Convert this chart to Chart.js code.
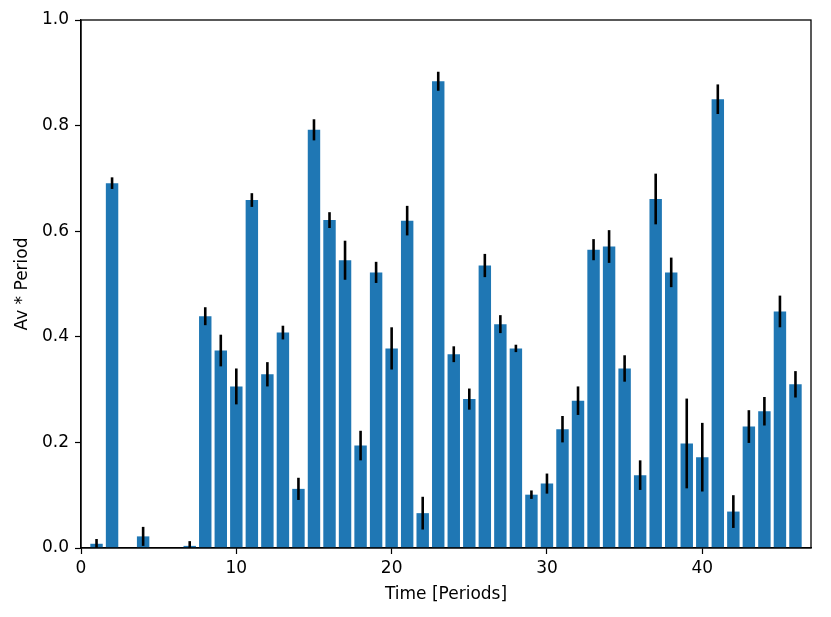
<!DOCTYPE html>
<html>
<head>
<meta charset="utf-8">
<script src="https://cdn.jsdelivr.net/npm/chart.js@4/dist/chart.umd.min.js"></script>
<style>
html,body{margin:0;padding:0;background:#fff;}
#wrap{width:831px;height:617px;position:relative;}
</style>
</head>
<body>
<div id="wrap"><canvas id="c" width="831" height="617"></canvas></div>
<script>
const periods = [1,2,3,4,5,6,7,8,9,10,11,12,13,14,15,16,17,18,19,20,21,22,23,24,25,26,27,28,29,30,31,32,33,34,35,36,37,38,39,40,41,42,43,44,45,46];
const values = [0.008,0.691,0,0.022,0,0,0.004,0.439,0.374,0.306,0.659,0.329,0.408,0.112,0.792,0.621,0.545,0.194,0.522,0.378,0.620,0.066,0.884,0.367,0.282,0.535,0.424,0.378,0.101,0.122,0.225,0.279,0.565,0.571,0.340,0.138,0.661,0.522,0.198,0.172,0.850,0.069,0.230,0.259,0.448,0.310];
const errors = [0.009,0.011,0,0.018,0,0,0.009,0.017,0.030,0.034,0.013,0.023,0.013,0.021,0.020,0.015,0.037,0.028,0.020,0.040,0.028,0.031,0.018,0.015,0.020,0.022,0.017,0.007,0.008,0.019,0.025,0.027,0.020,0.031,0.025,0.028,0.048,0.028,0.085,0.065,0.028,0.031,0.031,0.027,0.030,0.025];
const xTicks = [0,10,20,30,40];
const yTicks = [0.0,0.2,0.4,0.6,0.8,1.0];

const FONT = "'DejaVu Sans', sans-serif";

const errorBars = {
  id: 'errorBars',
  afterDatasetsDraw(chart) {
    const ctx = chart.ctx;
    const meta = chart.getDatasetMeta(0);
    const ys = chart.scales.y;
    ctx.save();
    ctx.strokeStyle = '#000';
    ctx.lineWidth = 2.6;
    meta.data.forEach((bar, i) => {
      const e = errors[i];
      if (!e) return;
      const v = values[i];
      const top = ys.getPixelForValue(v + e);
      const bot = ys.getPixelForValue(v - e);
      ctx.beginPath();
      ctx.moveTo(bar.x, top);
      ctx.lineTo(bar.x, Math.min(bot, chart.chartArea.bottom));
      ctx.stroke();
    });
    ctx.restore();
  },
  afterDraw(chart) {
    const a = chart.chartArea;
    const ctx = chart.ctx;
    ctx.save();
    ctx.strokeStyle = '#000';
    ctx.lineWidth = 1.3;
    ctx.strokeRect(a.left, a.top, a.right - a.left, a.bottom - a.top);
    ctx.restore();
  }
};

new Chart(document.getElementById('c'), {
  type: 'bar',
  data: {
    datasets: [{
      data: periods.map((p, i) => ({x: p, y: values[i]})),
      backgroundColor: '#1f77b4',
      borderWidth: 0,
      barPercentage: 1.0,
      categoryPercentage: 0.8
    }]
  },
  options: {
    responsive: false,
    animation: false,
    devicePixelRatio: 1,
    layout: {padding: {left: 0, right: 20, top: 20, bottom: 0}},
    plugins: {legend: {display: false}, tooltip: {enabled: false}},
    scales: {
      x: {
        type: 'linear',
        min: 0, max: 47,
        offset: false,
        afterBuildTicks: s => { s.ticks = xTicks.map(v => ({value: v})); },
        afterFit: s => { s.height = 69; },
        grid: {display: true, offset: false, drawOnChartArea: false, drawTicks: true, tickLength: 6, tickColor: '#000', tickWidth: 1.2},
        border: {display: true, color: '#000', width: 1.3},
        ticks: {color: '#000', font: {family: FONT, size: 17}, padding: 4, maxRotation: 0, callback: v => String(v)},
        title: {display: true, text: 'Time [Periods]', color: '#000', font: {family: FONT, size: 17}, padding: {top: 2, bottom: 12}}
      },
      y: {
        type: 'linear',
        min: 0, max: 1,
        afterBuildTicks: s => { s.ticks = yTicks.map(v => ({value: v})); },
        afterFit: s => { s.width = 81; },
        grid: {display: true, drawOnChartArea: false, drawTicks: true, tickLength: 6, tickColor: '#000', tickWidth: 1.2},
        border: {display: true, color: '#000', width: 1.3},
        ticks: {color: '#000', font: {family: FONT, size: 17}, padding: 6, callback: v => Number(v).toFixed(1)},
        title: {display: true, text: 'Av * Period', color: '#000', font: {family: FONT, size: 17}, padding: {top: 12, bottom: 4}}
      }
    }
  },
  plugins: [errorBars]
});
</script>
</body>
</html>
